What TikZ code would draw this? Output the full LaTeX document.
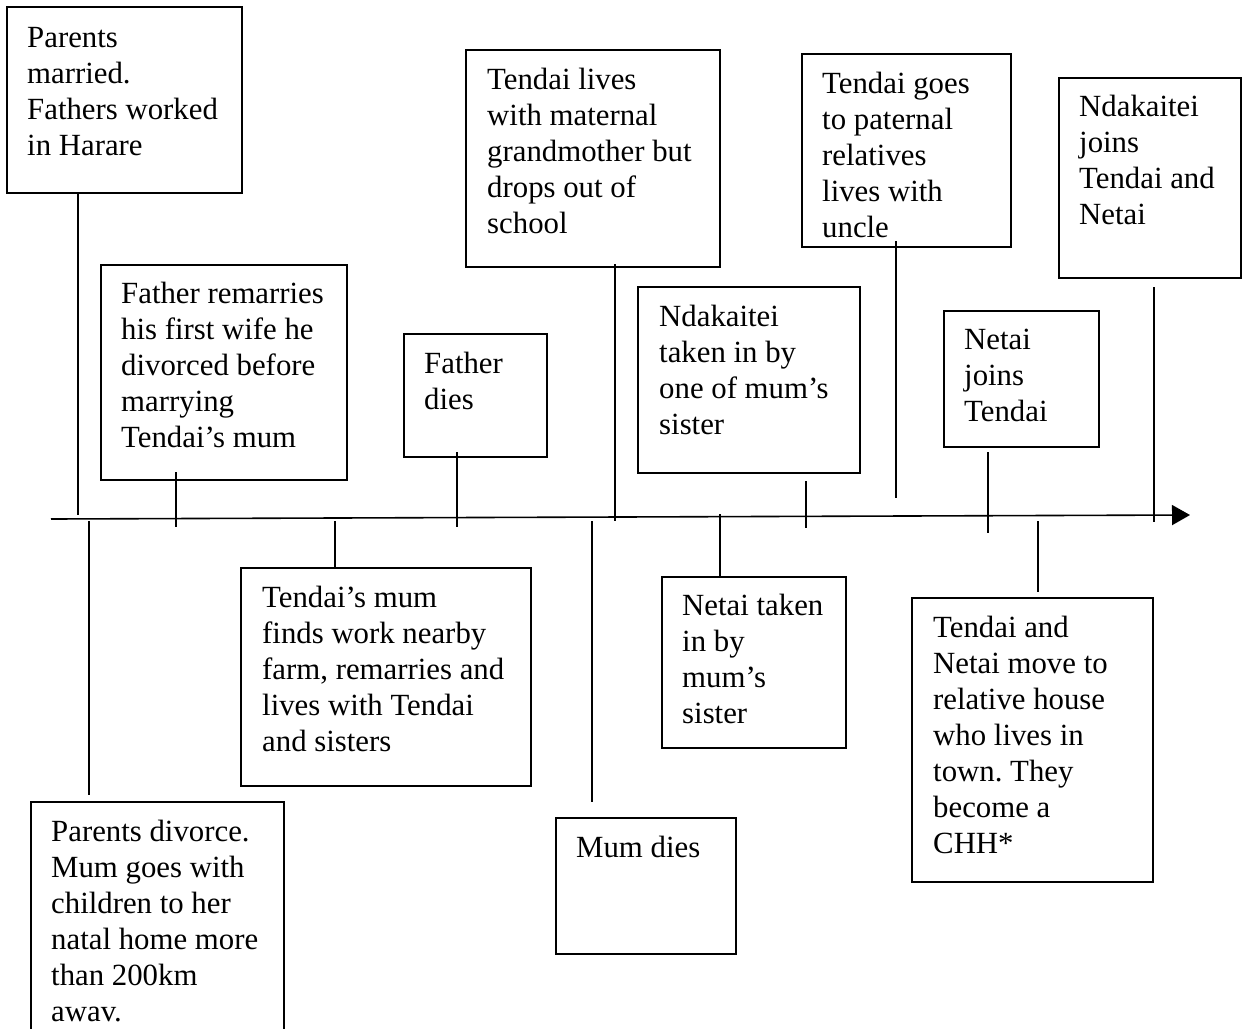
\documentclass[tikz,border=0pt]{standalone}
\usepackage{fontspec}
\setmainfont{Liberation Serif}
\frenchspacing
\usetikzlibrary{arrows.meta}
\begin{document}
\begin{tikzpicture}[x=1pt,y=-1pt,
  evbox/.style={draw=black,line width=1.4pt,anchor=north west,inner sep=0pt,outer sep=0pt},
  txt/.style={anchor=base west,inner sep=0pt,font=\fontsize{30.8}{36}\selectfont},
  link/.style={draw=black,line width=1.3pt},
  timeline/.style={draw=black,line width=1.6pt,-{Triangle[length=18pt,width=20pt]}}]
\useasboundingbox (0,0) rectangle (1242,1028);
\clip (0,0) rectangle (1242,1028);

% event boxes: top-left corner, then width and height
\node[evbox,minimum width=235pt,minimum height=186pt] (b1) at (7,7) {};
\node[evbox,minimum width=246pt,minimum height=215pt] (b2) at (101,265) {};
\node[evbox,minimum width=143pt,minimum height=123pt] (b3) at (404,334) {};
\node[evbox,minimum width=290pt,minimum height=218pt] (b4) at (241,568) {};
\node[evbox,minimum width=253pt,minimum height=240pt] (b5) at (31,802) {};
\node[evbox,minimum width=180pt,minimum height=136pt] (b6) at (556,818) {};
\node[evbox,minimum width=254pt,minimum height=217pt] (b7) at (466,50) {};
\node[evbox,minimum width=222pt,minimum height=186pt] (b8) at (638,287) {};
\node[evbox,minimum width=184pt,minimum height=171pt] (b9) at (662,577) {};
\node[evbox,minimum width=209pt,minimum height=193pt] (b10) at (802,54) {};
\node[evbox,minimum width=155pt,minimum height=136pt] (b11) at (944,311) {};
\node[evbox,minimum width=241pt,minimum height=284pt] (b12) at (912,598) {};
\node[evbox,minimum width=182pt,minimum height=200pt] (b13) at (1059,78) {};

% box texts
\node[txt] (t1) at (27,47) {\begin{tabular}[t]{@{}l@{}}Parents\\married.\\Fathers worked\\in Harare\end{tabular}};
\node[txt] (t2) at (121,303) {\begin{tabular}[t]{@{}l@{}}Father remarries\\his first wife he\\divorced before\\marrying\\Tendai’s mum\end{tabular}};
\node[txt] (t3) at (424,373) {\begin{tabular}[t]{@{}l@{}}Father\\dies\end{tabular}};
\node[txt] (t4) at (262,607) {\begin{tabular}[t]{@{}l@{}}Tendai’s mum\\finds work nearby\\farm, remarries and\\lives with Tendai\\and sisters\end{tabular}};
\node[txt] (t5) at (51,841) {\begin{tabular}[t]{@{}l@{}}Parents divorce.\\Mum goes with\\children to her\\natal home more\\than 200km\\awav.\end{tabular}};
\node[txt] (t6) at (576,857) {Mum dies};
\node[txt] (t7) at (487,89) {\begin{tabular}[t]{@{}l@{}}Tendai lives\\with maternal\\grandmother but\\drops out of\\school\end{tabular}};
\node[txt] (t8) at (659,326) {\begin{tabular}[t]{@{}l@{}}Ndakaitei\\taken in by\\one of mum’s\\sister\end{tabular}};
\node[txt] (t9) at (682,615) {\begin{tabular}[t]{@{}l@{}}Netai taken\\in by\\mum’s\\sister\end{tabular}};
\node[txt] (t10) at (822,93) {\begin{tabular}[t]{@{}l@{}}Tendai goes\\to paternal\\relatives\\lives with\\uncle\end{tabular}};
\node[txt] (t11) at (964,349) {\begin{tabular}[t]{@{}l@{}}Netai\\joins\\Tendai\end{tabular}};
\node[txt] (t12) at (933,637) {\begin{tabular}[t]{@{}l@{}}Tendai and\\Netai move to\\relative house\\who lives in\\town. They\\become a\\CHH*\end{tabular}};
\node[txt] (t13) at (1079,116) {\begin{tabular}[t]{@{}l@{}}Ndakaitei\\joins\\Tendai and\\Netai\end{tabular}};

% time axis
\coordinate (ax0) at (51,519);
\coordinate (ax1) at (1190,515);
\draw[timeline] (ax0) -- (ax1);

% connector end points
\coordinate (c1a) at (78,193);    \coordinate (c1b) at (78,515);
\coordinate (c2a) at (89,521);    \coordinate (c2b) at (89,795);
\coordinate (c3a) at (176,472);   \coordinate (c3b) at (176,527);
\coordinate (c4a) at (335,521);   \coordinate (c4b) at (335,568);
\coordinate (c5a) at (457,452);   \coordinate (c5b) at (457,527);
\coordinate (c6a) at (592,521);   \coordinate (c6b) at (592,802);
\coordinate (c7a) at (615,264);   \coordinate (c7b) at (615,521);
\coordinate (c8a) at (720,514);   \coordinate (c8b) at (720,577);
\coordinate (c9a) at (806,481);   \coordinate (c9b) at (806,528);
\coordinate (c10a) at (896,241);  \coordinate (c10b) at (896,498);
\coordinate (c11a) at (988,452);  \coordinate (c11b) at (988,533);
\coordinate (c12a) at (1038,521); \coordinate (c12b) at (1038,592);
\coordinate (c13a) at (1154,287); \coordinate (c13b) at (1154,522);

\foreach \i in {1,...,13} {\draw[link] (c\i a) -- (c\i b);}
\end{tikzpicture}
\end{document}
